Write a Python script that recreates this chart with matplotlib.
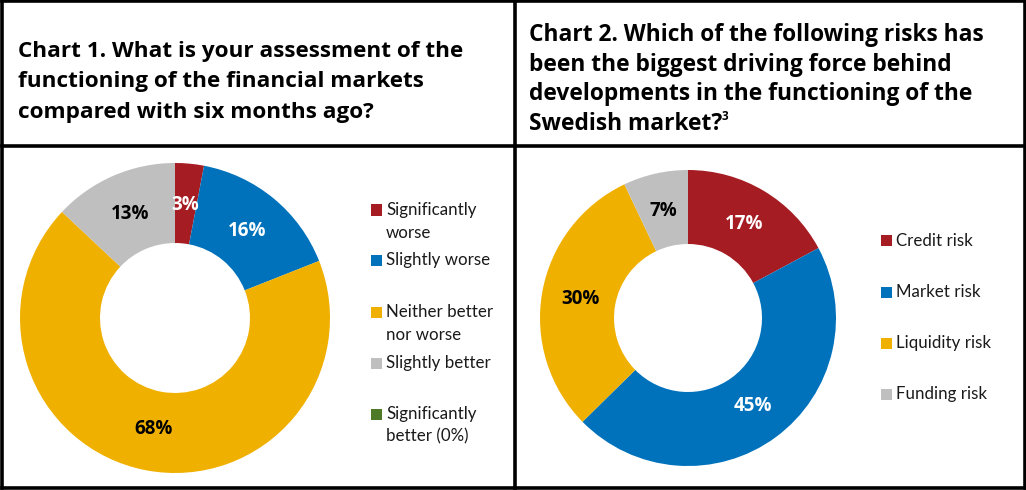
import matplotlib.pyplot as plt
import numpy as np
from matplotlib.lines import Line2D
from matplotlib.patches import Rectangle

plt.rcParams['font.family'] = ['Lato', 'DejaVu Sans']
BOLD = ['Open Sans', 'DejaVu Sans']

# Chart 1: assessment of market functioning
c1_labels = ["Significantly\nworse", "Slightly worse", "Neither better\nnor worse",
             "Slightly better", "Significantly\nbetter (0%)"]
c1_values = [3, 16, 68, 13, 0]
c1_colors = ["#A61C23", "#0072BC", "#F0B000", "#BFBFBF", "#4E7A27"]
c1_text = ["white", "white", "black", "black", "black"]

# Chart 2: biggest driving risk
c2_labels = ["Credit risk", "Market risk", "Liquidity risk", "Funding risk"]
c2_values = [17, 45, 30, 7]
c2_colors = ["#A61C23", "#0072BC", "#F0B000", "#BFBFBF"]
c2_text = ["white", "white", "black", "black"]

title1 = ["Chart 1. What is your assessment of the",
          "functioning of the financial markets",
          "compared with six months ago?"]
title2 = ["Chart 2. Which of the following risks has",
          "been the biggest driving force behind",
          "developments in the functioning of the",
          "Swedish market?"]

W, H = 1026, 490
fig = plt.figure(figsize=(W / 100, H / 100), dpi=100)


def px_axes(cx, cy, r):
    # axes square in pixels, centred on (cx, cy) measured from top-left
    return fig.add_axes([(cx - r) / W, (H - cy - r) / H, 2 * r / W, 2 * r / H])


def donut(ax, values, colors, text_colors, hole, label_r):
    wedges, _ = ax.pie(values, colors=colors, startangle=90, counterclock=False,
                       radius=1.0, wedgeprops=dict(width=1.0 - hole, linewidth=0))
    for w, v, tc in zip(wedges, values, text_colors):
        if v == 0:
            continue
        ang = np.deg2rad((w.theta1 + w.theta2) / 2)
        ax.text(label_r * np.cos(ang), label_r * np.sin(ang), f"{v}%",
                ha="center", va="center", fontsize=13.5, fontweight="bold",
                color=tc, family=BOLD)
    ax.set_xlim(-1, 1)
    ax.set_ylim(-1, 1)
    ax.set_aspect("equal")
    ax.axis("off")


def legend(labels, colors, x, ys):
    for lab, col, y in zip(labels, colors, ys):
        fig.add_artist(Rectangle((x / W, (H - y - 5.5) / H), 11 / W, 11 / H,
                                 transform=fig.transFigure, color=col, lw=0))
        for i, line in enumerate(lab.split("\n")):
            fig.text((x + 15) / W, (H - y - 22.5 * i) / H, line, ha="left",
                     va="center", fontsize=12.2, color="#1a1a1a")


def title(lines, x, y0, step, size):
    t = None
    for i, line in enumerate(lines):
        t = fig.text(x / W, (H - y0 - step * i) / H, line, ha="left", va="baseline",
                     fontsize=size, fontweight="bold", family=BOLD)
    return t


ax1 = px_axes(175, 318, 155)
donut(ax1, c1_values, c1_colors, c1_text, 75 / 155, 0.73)
legend(c1_labels, c1_colors, 371, [210, 260, 312, 363, 414])

ax2 = px_axes(688, 318, 148)
donut(ax2, c2_values, c2_colors, c2_text, 74 / 148, 0.74)
legend(c2_labels, c2_colors, 881, [241, 292, 343, 394])

title(title1, 18, 57, 30.5, 16.2)
last = title(title2, 529, 41, 29.7, 16.4)

# footnote marker after the last title line
fig.canvas.draw()
bb = last.get_window_extent()
fig.text((bb.x1 - 1) / W, (H - 41 - 3 * 29.7 + 10) / H, "3", ha="left", va="baseline",
         fontsize=8.5, fontweight="bold", family=BOLD)

# table frame
lw = 2.6
for xs, ys in [([1.5, 1024.5], [1.5, 1.5]), ([1.5, 1024.5], [487.5, 487.5]),
               ([1.5, 1.5], [1.5, 487.5]), ([1024.5, 1024.5], [1.5, 487.5]),
               ([514.5, 514.5], [1.5, 487.5]), ([1.5, 1024.5], [146.5, 146.5])]:
    fig.add_artist(Line2D([x / W for x in xs], [1 - y / H for y in ys],
                          transform=fig.transFigure, color="black", lw=lw))

fig.savefig("out.png", dpi=100)
